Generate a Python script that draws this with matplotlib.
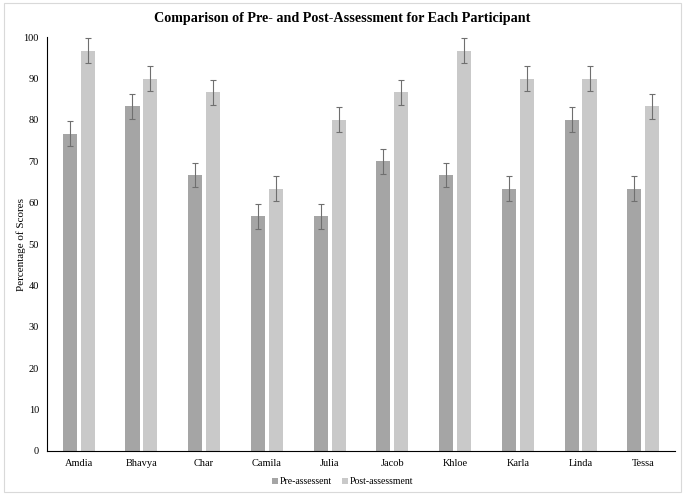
import matplotlib.pyplot as plt
import numpy as np
from matplotlib.patches import Rectangle

plt.rcParams["font.family"] = ["Liberation Serif", "DejaVu Serif"]

participants = ["Amdia", "Bhavya", "Char", "Camila", "Julia",
                "Jacob", "Khloe", "Karla", "Linda", "Tessa"]
pre_scores = [76.67, 83.33, 66.67, 56.67, 56.67, 70.0, 66.67, 63.33, 80.0, 63.33]
post_scores = [96.67, 90.0, 86.67, 63.33, 80.0, 86.67, 96.67, 90.0, 90.0, 83.33]
pre_err = [3] * 10
post_err = [3] * 10

fig = plt.figure(figsize=(6.85, 4.95), dpi=100)
fig.patches.append(Rectangle((0.006, 0.006), 0.988, 0.988, transform=fig.transFigure,
                             fill=False, edgecolor="#d9d9d9", linewidth=0.8))
ax = fig.add_axes([0.069, 0.089, 0.916, 0.836])

x = np.arange(len(participants))
w = 0.225
err_kw = dict(ecolor="#6f6f6f", capsize=2.5, elinewidth=0.8, capthick=0.8)
ax.bar(x - w / 2 - 0.03, pre_scores, w, yerr=pre_err, color="#a5a5a5",
       label="Pre-assessent", error_kw=err_kw)
ax.bar(x + w / 2 + 0.03, post_scores, w, yerr=post_err, color="#c9c9c9",
       label="Post-assessment", error_kw=err_kw)

ax.set_ylim(0, 100)
ax.set_yticks(range(0, 101, 10))
ax.set_xlim(-0.5, len(participants) - 0.5)
ax.set_xticks(x)
ax.set_xticklabels(participants)
ax.tick_params(length=0, labelsize=7.5, pad=6)
ax.set_ylabel("Percentage of Scores", fontsize=8, labelpad=-2)
for s in ["top", "right"]:
    ax.spines[s].set_visible(False)
for s in ["left", "bottom"]:
    ax.spines[s].set_color("#000000")
    ax.spines[s].set_linewidth(0.8)

fig.suptitle("Comparison of Pre- and Post-Assessment for Each Participant",
             fontsize=10.2, fontweight="bold", y=0.975)
fig.legend(loc="lower center", bbox_to_anchor=(0.5, 0.0), ncol=2, frameon=False,
           fontsize=7, handlelength=0.6, handleheight=0.6, handletextpad=0.2,
           columnspacing=1.0)

fig.savefig("out.png", dpi=100)
